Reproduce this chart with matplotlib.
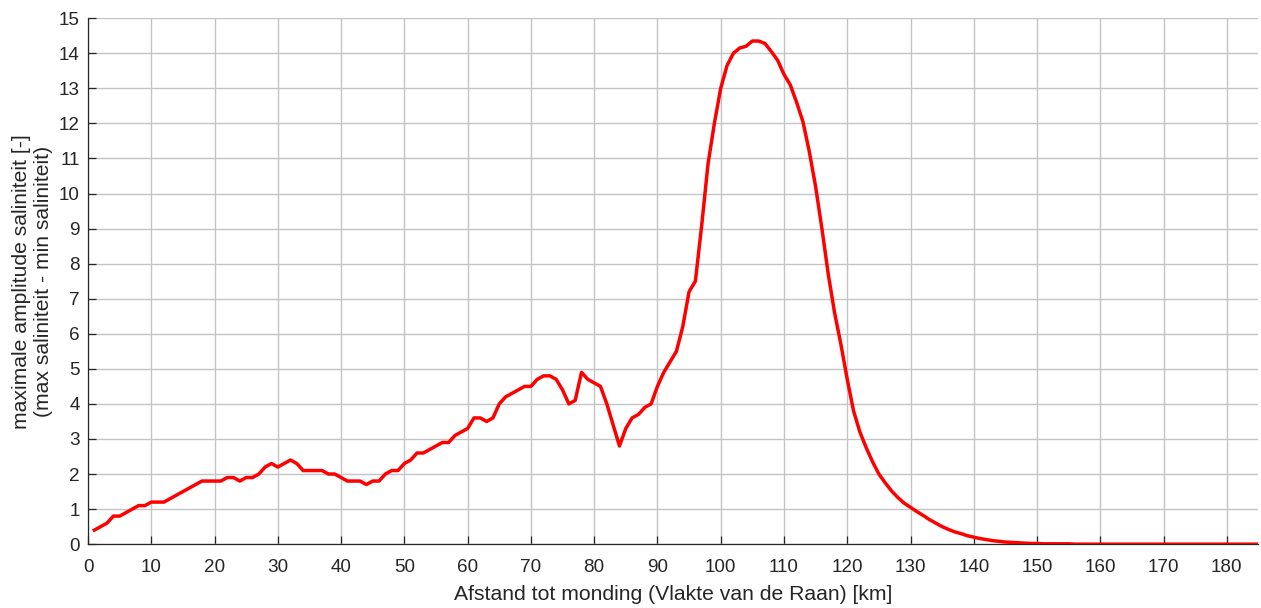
import matplotlib
matplotlib.use("Agg")
import matplotlib.pyplot as plt
import numpy as np

plt.rcParams['font.family'] = ['Liberation Sans', 'DejaVu Sans']

afstand_km = list(range(1, 186))

amplitude_1_60 = [
    0.4, 0.5, 0.6, 0.8, 0.8, 0.9, 1.0, 1.1, 1.1, 1.2,
    1.2, 1.2, 1.3, 1.4, 1.5, 1.6, 1.7, 1.8, 1.8, 1.8,
    1.8, 1.9, 1.9, 1.8, 1.9, 1.9, 2.0, 2.2, 2.3, 2.2,
    2.3, 2.4, 2.3, 2.1, 2.1, 2.1, 2.1, 2.0, 2.0, 1.9,
    1.8, 1.8, 1.8, 1.7, 1.8, 1.8, 2.0, 2.1, 2.1, 2.3,
    2.4, 2.6, 2.6, 2.7, 2.8, 2.9, 2.9, 3.1, 3.2, 3.3,
]
amplitude_61_120 = [
    3.6, 3.6, 3.5, 3.6, 4.0, 4.2, 4.3, 4.4, 4.5, 4.5,
    4.7, 4.8, 4.8, 4.7, 4.4, 4.0, 4.1, 4.9, 4.7, 4.6,
    4.5, 4.0, 3.4, 2.8, 3.3, 3.6, 3.7, 3.9, 4.0, 4.5,
    4.9, 5.2, 5.5, 6.2, 7.2, 7.5, 9.1, 10.85, 12.0, 13.0,
    13.65, 14.0, 14.15, 14.2, 14.35, 14.35, 14.28, 14.05, 13.8, 13.4,
    13.1, 12.6, 12.05, 11.2, 10.2, 9.0, 7.7, 6.6, 5.7, 4.7,
]
amplitude_121_185 = [
    3.8, 3.2, 2.75, 2.35, 2.0, 1.75, 1.52, 1.33, 1.17, 1.05,
    0.93, 0.82, 0.7, 0.6, 0.5, 0.42, 0.35, 0.3, 0.24, 0.2,
    0.16, 0.13, 0.1, 0.08, 0.06, 0.05, 0.04, 0.03, 0.02, 0.02,
    0.01, 0.01, 0.01, 0.01, 0.01, 0.0, 0.0, 0.0, 0.0, 0.0,
    0.0, 0.0, 0.0, 0.0, 0.0, 0.0, 0.0, 0.0, 0.0, 0.0,
    0.0, 0.0, 0.0, 0.0, 0.0, 0.0, 0.0, 0.0, 0.0, 0.0,
    0.0, 0.0, 0.0, 0.0, 0.0,
]
amplitude = amplitude_1_60 + amplitude_61_120 + amplitude_121_185

x_ticks = list(range(0, 181, 10))
y_ticks = list(range(0, 16))

text_color = '#262626'

fig = plt.figure(figsize=(12.61, 6.08), dpi=100)
ax = fig.add_axes([0.0698, 0.105, 0.9282, 0.865])

ax.plot(afstand_km, amplitude, color='#ff0000', linewidth=2.5, zorder=3,
        solid_joinstyle='round')

ax.set_xlim(0, 185)
ax.set_ylim(0, 15)
ax.set_xticks(x_ticks)
ax.set_yticks(y_ticks)
ax.grid(True, color='#c4c4c4', linewidth=1.0)
ax.set_axisbelow(True)

for side in ['top', 'right']:
    ax.spines[side].set_visible(False)
for side in ['left', 'bottom']:
    ax.spines[side].set_color('#262626')
    ax.spines[side].set_linewidth(0.9)

ax.tick_params(direction='in', length=6, width=0.9, colors=text_color,
               labelsize=13.6)
ax.tick_params(axis='x', pad=11)
ax.tick_params(axis='y', pad=6)

ax.set_xlabel('Afstand tot monding (Vlakte van de Raan) [km]', fontsize=15.2,
              color=text_color, labelpad=6)
ax.set_ylabel('maximale amplitude saliniteit [-]\n(max saliniteit - min saliniteit)',
              fontsize=15.2, color=text_color, labelpad=4, linespacing=1.2)

fig.savefig('out.png', dpi=100)
